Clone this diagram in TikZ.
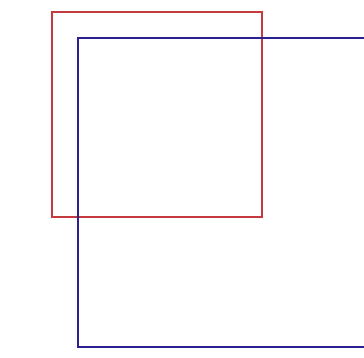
\documentclass[tikz,border=0pt]{standalone}
\usepackage{xcolor}
\usepackage{tikz}
\definecolor{frontRed}{HTML}{C43A3E}
\definecolor{backBlue}{HTML}{2A2094}

\begin{document}
\begin{tikzpicture}[x=1pt, y=-1pt, line width=2.8pt]
\useasboundingbox (0,0) rectangle (364,357);
\clip (0,0) rectangle (364,357);
% red square, top-left
\draw[frontRed] (52,12) rectangle (262,217);
% blue rectangle running off the right edge
\draw[backBlue] (78,38) rectangle (420,347);
\end{tikzpicture}
\end{document}
